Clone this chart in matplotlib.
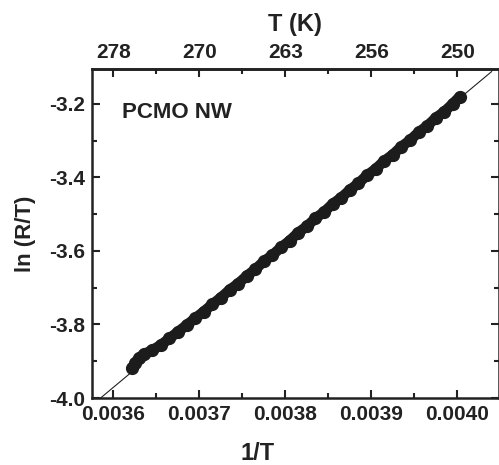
import matplotlib.pyplot as plt
from matplotlib.ticker import MultipleLocator

plt.rcParams['font.family'] = ['Liberation Sans', 'DejaVu Sans']
plt.rcParams['font.weight'] = 'bold'

# --- Data ---
inv_t = [0.003622, 0.003625, 0.003630, 0.003636, 0.003645, 0.003655, 0.003665,
         0.003675, 0.003685, 0.003695, 0.003705, 0.003715, 0.003725, 0.003735,
         0.003745, 0.003755, 0.003765, 0.003775, 0.003785, 0.003795, 0.003805,
         0.003815, 0.003825, 0.003835, 0.003845, 0.003855, 0.003865, 0.003875,
         0.003885, 0.003895, 0.003905, 0.003915, 0.003925, 0.003935, 0.003945,
         0.003955, 0.003965, 0.003975, 0.003985, 0.003995, 0.004003]
ln_rt = [-3.918, -3.905, -3.890, -3.880, -3.870, -3.856, -3.838,
         -3.820, -3.802, -3.783, -3.765, -3.745, -3.727, -3.706,
         -3.689, -3.668, -3.650, -3.628, -3.611, -3.590, -3.572,
         -3.550, -3.533, -3.511, -3.494, -3.472, -3.455, -3.434,
         -3.416, -3.394, -3.377, -3.355, -3.338, -3.316, -3.299,
         -3.277, -3.260, -3.238, -3.221, -3.199, -3.180]

# linear fit line end points
fit_x = [0.003585, 0.004040]
fit_y = [-4.000, -3.112]

bottom_ticks = [0.0036, 0.0037, 0.0038, 0.0039, 0.0040]
bottom_labels = ['0.0036', '0.0037', '0.0038', '0.0039', '0.0040']
top_labels = ['278', '270', '263', '256', '250']
y_ticks = [-4.0, -3.8, -3.6, -3.4, -3.2]

# --- Plotting ---
fig = plt.figure(figsize=(4.99, 4.65), dpi=100)
ax = fig.add_axes([92 / 499, 1 - 398 / 465, 406.5 / 499, 329 / 465])

ax.plot(fit_x, fit_y, color='#222222', lw=0.8, zorder=2)
ax.plot(inv_t, ln_rt, color='#1c1c1c', lw=7.5, marker='o', ms=8.5,
        solid_capstyle='round', zorder=3)

ax.set_xlim(0.003575, 0.004048)
ax.set_ylim(-4.0, -3.105)

ax.set_xticks(bottom_ticks)
ax.set_xticklabels(bottom_labels)
ax.set_yticks(y_ticks)
ax.set_yticklabels([f'{v:.1f}' for v in y_ticks])
ax.xaxis.set_minor_locator(MultipleLocator(0.00005))
ax.yaxis.set_minor_locator(MultipleLocator(0.1))

ax.tick_params(which='both', direction='in', top=False, right=True,
               labelsize=15, colors='#222222', width=1.5)
ax.tick_params(which='major', length=6)
ax.tick_params(which='minor', length=3.5)
ax.tick_params(axis='x', pad=5)
ax.tick_params(axis='y', pad=5)
for s in ax.spines.values():
    s.set_linewidth(1.8)
    s.set_color('#222222')

# top axis with temperature labels
top = ax.secondary_xaxis('top')
top.set_xticks(bottom_ticks)
top.set_xticklabels(top_labels)
top.xaxis.set_minor_locator(MultipleLocator(0.00005))
top.tick_params(which='both', direction='in', labelsize=15, colors='#222222',
                width=1.5, pad=5)
top.tick_params(which='major', length=6)
top.tick_params(which='minor', length=3.5)
top.spines['top'].set_linewidth(1.8)
top.set_xlabel('T (K)', fontsize=17, fontweight='bold', color='#222222', labelpad=9)

ax.set_xlabel('1/T', fontsize=17, fontweight='bold', color='#222222')
ax.xaxis.set_label_coords((258 - 92) / 406.5, -(442 - 398) / 329)
ax.set_ylabel('ln (R/T)', fontsize=16, fontweight='bold', color='#222222')
ax.yaxis.set_label_coords(-(92 - 36) / 406.5, 0.5)

ax.text(0.073, 0.868, 'PCMO NW', transform=ax.transAxes, fontsize=16,
        fontweight='bold', color='#222222', va='center', ha='left')

plt.savefig('out.png', dpi=100)
